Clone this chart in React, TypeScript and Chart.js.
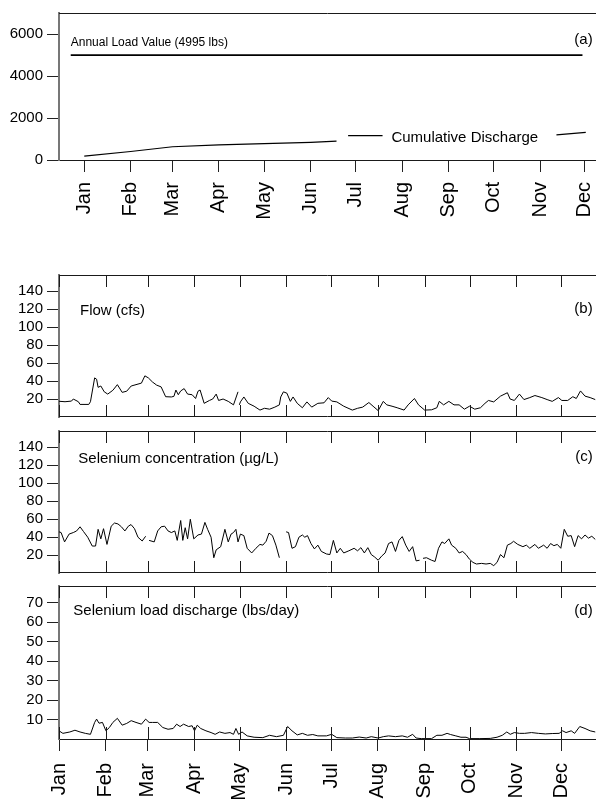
import React, { useEffect, useRef } from 'react';
import { Chart, registerables, ChartConfiguration, Plugin } from 'chart.js';

Chart.register(...registerables);

const FONT = '"Liberation Sans", Arial, Helvetica, sans-serif';

// ---- axes ----
const monthLabels = ['Jan', 'Feb', 'Mar', 'Apr', 'May', 'Jun', 'Jul', 'Aug', 'Sep', 'Oct', 'Nov', 'Dec'];
const monthStartDays = [0, 31, 59, 90, 120, 151, 181, 212, 243, 273, 304, 334];
const midMonthDays = [16.8, 47.6, 75.5, 106.3, 136.4, 167.4, 197.3, 228.2, 259.0, 289.0, 319.8, 349.3];
const loadTicksA = [0, 2000, 4000, 6000];
const concTicks = [20, 40, 60, 80, 100, 120, 140];
const dischargeTicks = [10, 20, 30, 40, 50, 60, 70];

// ---- panel (a) ----
const annualLoadDays = [7.8, 348];
const annualLoadValues = [4995, 4995];
const cumulativeDays = [16.8, 47.6, 75.5, 106.3, 136.4, 167.4, 184.5, 188, 192.2, 215.1, 270, 330.7, 350.2];
const cumulativeValues = [180, 405, 630, 720, 780, 840, 900, null, 1157, 1157, null, 1200, 1320];

// ---- panel (b) flow, cfs ----
const flowDays = [
  0, 4, 8.3, 9.5, 12.9, 14, 19.8, 20.9, 23.7, 25,
  26, 27.8, 30.1, 32.4, 35.8, 38.8, 42, 45, 48, 51.2,
  54.8, 57.1, 59.4, 62.1, 64.9, 67.9, 70.9, 74.7, 76.4, 77.7,
  79.3, 80.9, 83.2, 85.5, 88.5, 90.8, 92.4, 93.8, 96.5, 100,
  102.2, 104.5, 106.1, 109.1, 112.5, 116, 119, 119.5, 119.9, 120.6,
  122.9, 125.8, 129.7, 133.6, 136.6, 140, 143.5, 146.5, 147.4, 149.2,
  151.5, 153.8, 155.6, 158.4, 161.8, 164.8, 168, 172.1, 176.2, 179,
  181.3, 184.7, 189.3, 195, 198.5, 201.9, 206, 208.8, 212.2, 215.6,
  217.9, 221.4, 224.8, 229.4, 232.1, 236.3, 239, 243.1, 247.7, 251.2,
  252.8, 255.7, 259.2, 262.6, 266, 269.5, 272.9, 276.4, 280.2, 283.2,
  285.5, 289, 293.5, 298.1, 299.9, 302.7, 306.1, 309.1, 313, 316.4,
  321, 324.5, 327.9, 332, 334.3, 338.2, 341.6, 343.9, 346.7, 349.7,
  353.1, 356.5,
];
const flowValues = [
  17.5, 17, 17.7, 20, 17, 14, 14, 17, 43.5, 42,
  33, 34.5, 28, 25.5, 29.7, 36, 27.4, 28.7, 34.5, 36,
  37.7, 45.8, 43.5, 39, 35.5, 33.5, 22.6, 22.3, 23, 30,
  24.8, 29, 31.6, 25.5, 24.8, 20.6, 28.7, 30, 15.2, 18.4,
  20, 25.5, 18.4, 20, 17.4, 13.5, 28, null, 13.5, 16.8,
  22.3, 15.2, 12, 7.7, 9.7, 8.7, 11, 13.5, 22.3, 28,
  26.5, 17.4, 22.3, 15.2, 10.3, 16.8, 11, 15.2, 15.8, 21.6,
  17.7, 16.8, 12, 7.7, 9.7, 11, 16.1, 12, 7.1, 17.4,
  13.5, 12, 10.3, 7.7, 13.5, 20.6, 13.5, 7.7, 8, 10.3,
  17.4, 13.5, 17.4, 13.5, 13.5, 8.7, 12, 8.7, 10.3, 15.2,
  18.4, 16.8, 23.2, 27, 20, 18.4, 25.5, 19.4, 21.6, 23.9,
  21.6, 19.4, 17.4, 21.6, 18.4, 18.4, 22.6, 20.6, 29, 23.2,
  21.6, 19.4,
];

// ---- panel (c) selenium concentration, ug/L ----
const seleniumDays = [
  0, 1.4, 3.7, 6.7, 9.5, 11.7, 14, 16.3, 19.1, 22.1,
  24.3, 26, 27.8, 29.6, 31.9, 34.7, 36.9, 39.2, 41.5, 43.8,
  46.1, 47.9, 50.2, 52.5, 55.3, 57.6, 58.8, 59.9, 63.3, 65.6,
  67.9, 70.2, 72.5, 74.7, 77, 78.6, 80.9, 82.3, 83.9, 85.5,
  87.3, 89.6, 92.4, 94.7, 97, 98.8, 101.1, 102.9, 104.5, 107.5,
  110.3, 112.5, 114.4, 116, 117.6, 119, 120.6, 122.9, 125.1, 128.1,
  130.9, 133.6, 135.5, 137.7, 139.6, 141.9, 144.2, 146.5, 149, 151,
  152.6, 154.9, 157.2, 159.5, 161.8, 163.4, 165.2, 167.5, 169.8, 172.1,
  174.4, 177.8, 180.1, 182.4, 184.7, 187, 189.3, 192.7, 196.2, 198.5,
  200.7, 203, 205.3, 207.6, 209.9, 212.2, 214.5, 216.8, 219.1, 221.4,
  223.7, 226, 228.2, 230.5, 232.8, 235.1, 237.4, 239.7, 240.8, 242,
  244.3, 247.7, 250, 252.3, 254.6, 256.4, 259.2, 261, 263.8, 266,
  268.3, 270.6, 272.9, 275.2, 277.5, 280.9, 283.9, 286.7, 289, 291.2,
  293.5, 295.8, 298.1, 300.4, 302.2, 305, 308.4, 310.7, 313, 316.4,
  318.7, 322.2, 324.5, 326.8, 329, 331.3, 333.6, 335.9, 338.2, 340.5,
  342.8, 345.1, 347.4, 349.7, 352, 354.2, 356.5,
];
const seleniumValues = [
  45.8, 45, 34.6, 43.3, 45, 46.8, 51.4, 46.1, 39.8, 30,
  30, 48.6, 38, 49.3, 31.8, 52.1, 55.6, 54.6, 51.4, 46.8,
  52.1, 53.9, 49.3, 39.8, 35.6, 40.9, null, 36.3, 34.6, 46.8,
  51.4, 52.1, 46.8, 45, 46.8, 36.3, 58.4, 36.3, 50.4, 38,
  59.8, 38, 42.3, 43.3, 56.3, 48.6, 39.8, 17, 25.8, 29.3,
  48.6, 34.6, 43.3, 45, 48.6, 34.6, 43.3, 41.6, 27.5, 22.3,
  27.5, 31.8, 31, 35.3, 44.4, 41.6, 31, 17, null, 45.8,
  45, 27.5, 29.3, 39.8, 42.3, 39.8, 41.6, 32.8, 26.8, 31,
  24, 21.2, 20.5, 36.3, 22.3, 27.5, 22.3, 24.7, 27.5, 24.7,
  28.2, 22.3, 28.2, 20.5, 17.7, 14.2, 18.8, 22.3, 32.8, 34.6,
  24, 36.3, 40.5, 31, 24, 29.3, 13.5, 14.2, null, 16.3,
  17, 14.2, 12.8, 27.5, 34.6, 32.8, 38, 31, 27.5, 22.3,
  24, 20.5, 15.3, 11.8, 10, 10.7, 10, 10.7, 8.2, 11.8,
  20.5, 17, 31, 32.8, 35.3, 31.8, 29.3, 31, 27.5, 31.8,
  27.5, 31, 27.5, 32.8, 30.4, 31.8, 27.5, 48.6, 40.9, 41.6,
  29.3, 41.6, 38, 42.3, 38.8, 40.9, 37.4,
];

// ---- panel (d) selenium load discharge, lbs/day ----
const loadDays = [
  0, 2.6, 7.2, 10.6, 14, 17.5, 20.9, 23.7, 25, 26.6,
  28.9, 31.2, 33.5, 35.8, 38.8, 42, 45, 48, 51.2, 54.8,
  57.6, 59.9, 62.1, 65.6, 69, 72.5, 75.9, 78.2, 80.5, 82.8,
  86.2, 88.5, 90.1, 91.9, 94.2, 97.7, 101.1, 103.8, 106.8, 110.3,
  113.7, 116, 117.6, 119.4, 121.7, 125.1, 129.7, 135.5, 140, 144.6,
  149.2, 152, 154.9, 158.4, 161.8, 165.2, 168.7, 172.1, 177.8, 181.3,
  184.7, 190.4, 195, 199.6, 204.2, 207.6, 212.2, 215.6, 219.1, 223.7,
  228.2, 231.7, 235.1, 237.4, 240.8, 247.7, 251.2, 254.6, 258, 260.3,
  263.8, 267.2, 270.6, 272.9, 279.8, 286.7, 291.2, 294.7, 297.7, 300,
  302.7, 306.1, 309.6, 314.1, 318.7, 323.3, 327.9, 332.5, 334.8, 337.1,
  340.5, 342.8, 346.2, 349.7, 353.1, 356.5,
];
const loadValues = [
  4.2, 2.9, 3.6, 4.5, 3.6, 2.9, 2.4, 8.5, 10.2, 8.1,
  8.5, 4.2, 5.9, 8.5, 10.6, 7.1, 8, 9.4, 8.5, 7.6,
  10.2, 8.5, 8.5, 8.5, 5.9, 5, 5.4, 7.6, 6.4, 7.6,
  6.4, 6.8, 4.2, 7.1, 5.4, 4.2, 3.3, 2.4, 3.6, 2.9,
  3.3, 2.4, 5.4, 2.4, 3.6, 1.6, 0.9, 0.7, 1.9, 1.2,
  1.9, 6.4, 4.2, 2.1, 2.9, 1.9, 2.3, 1.6, 1.6, 2.4,
  0.7, 0.5, 0.5, 1, 0.5, 1.2, 0.5, 1.2, 1.6, 1.2,
  1.6, 0.9, 2.4, 0.5, 0.2, 0.2, 1.9, 1.9, 2.9, 2.3,
  1.6, 0.9, 0.9, 0.2, 0.2, 0.3, 0.9, 1.9, 3.6, 2.4,
  3.3, 2.9, 2.9, 3.3, 2.9, 2.6, 2.8, 2.9, 4.2, 3.3,
  4.2, 2.9, 6.4, 5.4, 4.2, 3.6,
];

const DAY_MAX = 357;

const toPoints = (days: number[], values: (number | null)[]) =>
  days.map((d, i) => ({ x: d, y: values[i] }));

type TextItem = {
  text: string;
  size: number;
  align: CanvasTextAlign;
  at: (c: Chart) => [number, number];
};

const textPlugin = (items: TextItem[]): Plugin => ({
  id: 'panelText',
  afterDraw(chart) {
    const { ctx } = chart;
    ctx.save();
    ctx.fillStyle = '#000';
    ctx.textBaseline = 'alphabetic';
    items.forEach((it) => {
      ctx.font = `${it.size}px ${FONT}`;
      ctx.textAlign = it.align;
      const [x, y] = it.at(chart);
      ctx.fillText(it.text, x, y);
    });
    ctx.restore();
  },
});

// top rule for every panel; inner month ticks and bottom rule for the stacked ones
const framePlugin = (innerTicks: boolean, drawBottom: boolean): Plugin => ({
  id: 'frame',
  afterDraw(chart) {
    const { ctx, chartArea, scales } = chart;
    const { left, right, top, bottom } = chartArea;
    const yTop = Math.round(top) + 0.5;
    const yBot = Math.round(bottom) - 0.5;
    ctx.save();
    ctx.strokeStyle = '#1a1a1a';
    ctx.lineWidth = 1;
    ctx.beginPath();
    ctx.moveTo(left, yTop);
    ctx.lineTo(right, yTop);
    if (drawBottom) {
      ctx.moveTo(left, yBot);
      ctx.lineTo(right, yBot);
    }
    if (innerTicks) {
      monthStartDays.forEach((d) => {
        const px = Math.round(scales.x.getPixelForValue(d)) + 0.5;
        ctx.moveTo(px, top);
        ctx.lineTo(px, top + 12);
        ctx.moveTo(px, bottom - 12);
        ctx.lineTo(px, bottom);
      });
    }
    ctx.stroke();
    ctx.restore();
  },
});

const yScale = (max: number, ticks: number[]) => ({
  min: 0,
  max,
  afterFit: (s: any) => {
    s.width = 59;
  },
  afterBuildTicks: (s: any) => {
    s.ticks = ticks.map((v) => ({ value: v }));
  },
  grid: { display: true, drawOnChartArea: false, drawTicks: true, tickLength: 12, color: '#222' },
  border: { display: true, color: '#777', width: 2 },
  ticks: {
    font: { family: FONT, size: 15 },
    color: '#000',
    padding: 4,
    callback: (v: any) => String(v),
  },
});

const monthAxis = (tickDays: number[], height: number, padding: number) => ({
  type: 'linear' as const,
  min: 0,
  max: DAY_MAX,
  position: 'bottom' as const,
  afterBuildTicks: (s: any) => {
    s.ticks = tickDays.map((v) => ({ value: v }));
  },
  afterFit: (s: any) => {
    s.height = height;
    s.paddingLeft = 0;
    s.paddingRight = 0;
  },
  grid: { display: true, drawOnChartArea: false, drawTicks: true, tickLength: 12, color: '#222' },
  border: { display: true, color: '#1a1a1a', width: 1 },
  ticks: {
    autoSkip: false,
    minRotation: 90,
    maxRotation: 90,
    padding,
    font: { family: FONT, size: 20 },
    color: '#000',
    callback: (_v: any, i: number) => monthLabels[i],
  },
});

const lineStyle = {
  borderColor: '#000',
  borderWidth: 1,
  pointRadius: 0,
  tension: 0,
  spanGaps: false,
};

const buildPanelA = (): ChartConfiguration => ({
  type: 'line',
  data: {
    datasets: [
      { ...lineStyle, borderWidth: 1.8, label: 'Annual Load Value', data: toPoints(annualLoadDays, annualLoadValues) },
      { ...lineStyle, borderWidth: 1.2, label: 'Cumulative Discharge', data: toPoints(cumulativeDays, cumulativeValues) },
    ],
  } as any,
  options: {
    animation: false,
    responsive: false,
    layout: { padding: { top: 4, bottom: 0, left: 0, right: 0 } },
    plugins: { legend: { display: false }, tooltip: { enabled: false } },
    scales: {
      x: monthAxis(midMonthDays, 72, 10),
      y: yScale(7000, loadTicksA),
    } as any,
  },
  plugins: [
    framePlugin(false, false),
    textPlugin([
      {
        text: 'Annual Load Value (4995 lbs)',
        size: 12,
        align: 'left',
        at: (c) => [c.scales.x.getPixelForValue(7.8), c.scales.y.getPixelForValue(5418)],
      },
      {
        text: 'Cumulative Discharge',
        size: 15,
        align: 'left',
        at: (c) => [c.scales.x.getPixelForValue(221), c.scales.y.getPixelForValue(870)],
      },
      { text: '(a)', size: 15, align: 'right', at: (c) => [c.chartArea.right - 3.3, c.chartArea.top + 31] },
    ]),
  ],
});

const buildSeriesPanel = (
  days: number[],
  values: (number | null)[],
  yMax: number,
  yTicks: number[],
  title: string,
  tag: string,
  titleDx: number,
  titleDy: number,
  tagDy: number,
  bottomAxis: boolean,
  padBottom: number,
): ChartConfiguration => ({
  type: 'line',
  data: { datasets: [{ ...lineStyle, label: title, data: toPoints(days, values) }] } as any,
  options: {
    animation: false,
    responsive: false,
    layout: { padding: { top: 10, bottom: padBottom, left: 0, right: 0 } },
    plugins: { legend: { display: false }, tooltip: { enabled: false } },
    scales: {
      x: bottomAxis
        ? monthAxis(monthStartDays, 64, 12)
        : { type: 'linear', min: 0, max: DAY_MAX, display: false },
      y: yScale(yMax, yTicks),
    } as any,
  },
  plugins: [
    framePlugin(true, !bottomAxis),
    textPlugin([
      { text: title, size: 15, align: 'left', at: (c) => [c.chartArea.left + titleDx, c.chartArea.top + titleDy] },
      { text: tag, size: 15, align: 'right', at: (c) => [c.chartArea.right - 3.3, c.chartArea.top + tagDy] },
    ]),
  ],
});

function PanelCanvas({ top, height, build }: { top: number; height: number; build: () => ChartConfiguration }) {
  const ref = useRef<HTMLCanvasElement | null>(null);
  useEffect(() => {
    if (!ref.current) return;
    const chart = new Chart(ref.current, build());
    return () => {
      chart.destroy();
    };
  }, []);
  return (
    <canvas
      ref={ref}
      width={596}
      height={height}
      style={{ position: 'absolute', left: 0, top, width: 596, height }}
    />
  );
}

export default function App() {
  return (
    <div style={{ position: 'absolute', left: 0, top: 0, width: 596, height: 803, background: '#fff', overflow: 'hidden' }}>
      <PanelCanvas top={0} height={232} build={buildPanelA} />
      <PanelCanvas
        top={262}
        height={168}
        build={() => buildSeriesPanel(flowDays, flowValues, 158, concTicks, 'Flow (cfs)', '(b)', 21, 40.4, 37.5, false, 2)}
      />
      <PanelCanvas
        top={418}
        height={168}
        build={() =>
          buildSeriesPanel(seleniumDays, seleniumValues, 158, concTicks, 'Selenium concentration (µg/L)', '(c)', 19.3, 31.7, 30.2, false, 3)
        }
      />
      <PanelCanvas
        top={573}
        height={230}
        build={() =>
          buildSeriesPanel(loadDays, loadValues, 78.5, dischargeTicks, 'Selenium load discharge (lbs/day)', '(d)', 14.3, 29, 28.5, true, 0)
        }
      />
    </div>
  );
}
